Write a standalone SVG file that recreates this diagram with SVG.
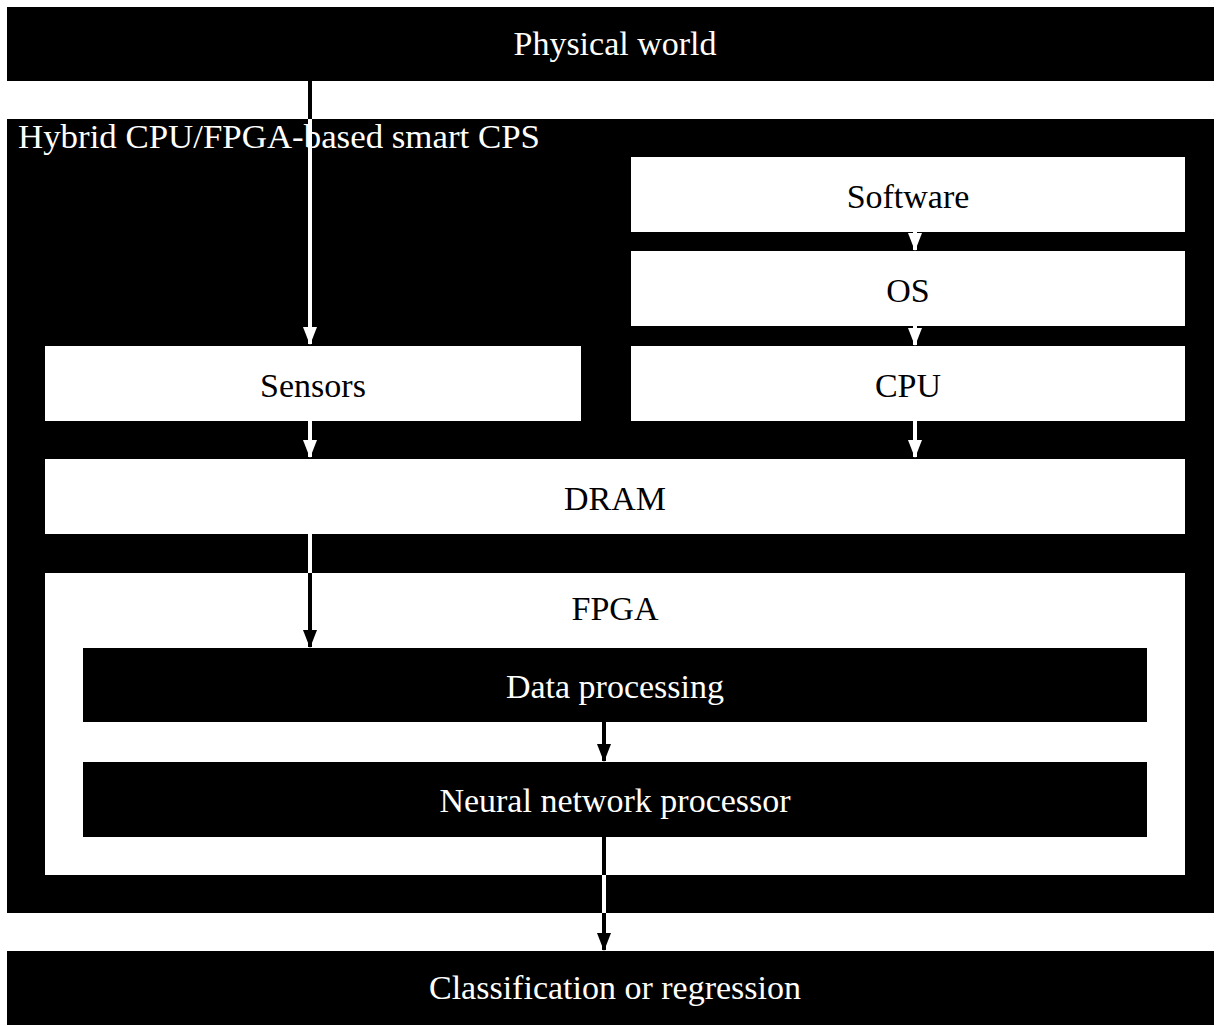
<svg xmlns="http://www.w3.org/2000/svg" width="1221" height="1026" viewBox="0 0 1221 1026">
  <style>
    .dark { fill: #000; }
    .light { fill: #fff; }
    .lbl { font-family: "Liberation Serif", "Times New Roman", serif; font-size: 34px; text-anchor: middle; }
    .on-dark { fill: #fff; }
    .on-light { fill: #000; }
    .w { stroke: #fff; stroke-width: 4; fill: none; }
    .b { stroke: #000; stroke-width: 4; fill: none; }
  </style>
  <defs>
    <marker id="headW" markerUnits="userSpaceOnUse" markerWidth="18" markerHeight="14" refX="17" refY="7" orient="auto">
      <path d="M0,0 L18,7 L0,14 z" fill="#fff"/>
    </marker>
    <marker id="headB" markerUnits="userSpaceOnUse" markerWidth="18" markerHeight="14" refX="17" refY="7" orient="auto">
      <path d="M0,0 L18,7 L0,14 z" fill="#000"/>
    </marker>
  </defs>

  <rect width="1221" height="1026" fill="#fff"/>

  <g id="physical-world">
    <rect class="dark" x="7" y="7" width="1207" height="74"/>
    <text class="lbl on-dark" x="615" y="55">Physical world</text>
  </g>

  <g id="smart-cps">
    <rect class="dark" x="7" y="119" width="1207" height="794"/>
    <text class="on-dark" x="18" y="148" font-family="Liberation Serif, Times New Roman, serif" font-size="34" textLength="522" lengthAdjust="spacingAndGlyphs">Hybrid CPU/FPGA-based smart CPS</text>
  </g>

  <g id="software">
    <rect class="light" x="631" y="157" width="554" height="75"/>
    <text class="lbl on-light" x="908" y="208">Software</text>
  </g>

  <g id="os">
    <rect class="light" x="631" y="251" width="554" height="75"/>
    <text class="lbl on-light" x="908" y="302">OS</text>
  </g>

  <g id="sensors">
    <rect class="light" x="45" y="346" width="536" height="75"/>
    <text class="lbl on-light" x="313" y="397">Sensors</text>
  </g>

  <g id="cpu">
    <rect class="light" x="631" y="346" width="554" height="75"/>
    <text class="lbl on-light" x="908" y="397">CPU</text>
  </g>

  <g id="dram">
    <rect class="light" x="45" y="459" width="1140" height="75"/>
    <text class="lbl on-light" x="615" y="510">DRAM</text>
  </g>

  <g id="fpga">
    <rect class="light" x="45" y="573" width="1140" height="302"/>
    <text class="lbl on-light" x="615" y="620">FPGA</text>
  </g>

  <g id="data-processing">
    <rect class="dark" x="83" y="648" width="1064" height="74"/>
    <text class="lbl on-dark" x="615" y="698">Data processing</text>
  </g>

  <g id="nn-processor">
    <rect class="dark" x="83" y="762" width="1064" height="75"/>
    <text class="lbl on-dark" x="615" y="812">Neural network processor</text>
  </g>

  <g id="classification">
    <rect class="dark" x="7" y="951" width="1207" height="74"/>
    <text class="lbl on-dark" x="615" y="999">Classification or regression</text>
  </g>

  <!-- connectors: stroke colour flips with the background underneath -->
  <g id="connectors">
    <!-- physical world to sensors -->
    <path class="b" d="M310,81 V119"/>
    <path class="w" d="M310,119 V344" marker-end="url(#headW)"/>
    <!-- sensors to DRAM -->
    <path class="w" d="M310,421 V457" marker-end="url(#headW)"/>
    <!-- software to OS -->
    <path class="w" d="M915,232 V250" marker-end="url(#headW)"/>
    <!-- OS to CPU -->
    <path class="w" d="M915,326 V345" marker-end="url(#headW)"/>
    <!-- CPU to DRAM -->
    <path class="w" d="M915,421 V457" marker-end="url(#headW)"/>
    <!-- DRAM to data processing -->
    <path class="w" d="M310,534 V573"/>
    <path class="b" d="M310,573 V647" marker-end="url(#headB)"/>
    <!-- data processing to neural network processor -->
    <path class="b" d="M604,722 V761" marker-end="url(#headB)"/>
    <!-- neural network processor to classification -->
    <path class="b" d="M604,837 V875"/>
    <path class="w" d="M604,875 V913"/>
    <path class="b" d="M604,913 V950" marker-end="url(#headB)"/>
  </g>
</svg>
